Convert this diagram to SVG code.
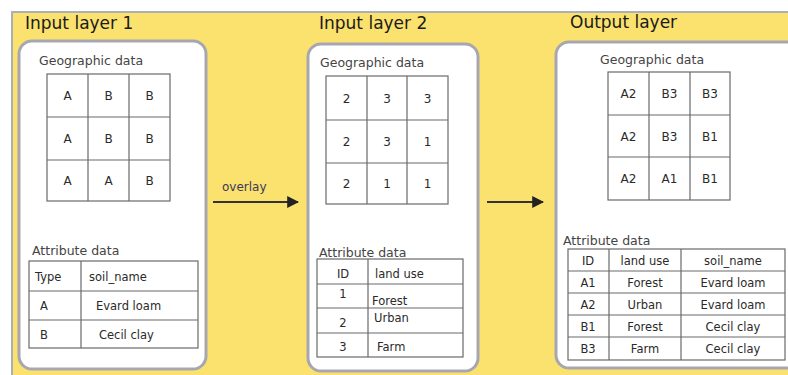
<svg xmlns="http://www.w3.org/2000/svg" width="788" height="375" viewBox="0 0 788 375">
<defs>
<style>
text{font-family:"DejaVu Sans","Liberation Sans",sans-serif;fill:#2a2a2a}
.title{font-size:17px;fill:#1a1a1a}
.sub{font-size:12.5px;fill:#444}
.cell{font-size:12px;text-anchor:middle}
.tbl{font-size:11.5px}
.mid{text-anchor:middle}
.panel{fill:#fff;stroke:#a7a7b2;stroke-width:3}
.grid{fill:none;stroke:#6a6a6a;stroke-width:1.2}
.conn{stroke:#333;stroke-width:2;fill:none}
</style>
<marker id="ah" viewBox="0 0 10 10" refX="9" refY="5" markerWidth="6" markerHeight="6" orient="auto" markerUnits="strokeWidth">
<path d="M0,0 L10,5 L0,10 z" fill="#222"/>
</marker>
</defs>
<rect x="0" y="0" width="788" height="375" fill="#ffffff"/>
<rect x="12" y="12" width="780" height="370" fill="#fbe16e" stroke="#a9b0b8" stroke-width="2"/>

<g id="input1">
<text class="title" x="25" y="29">Input layer 1</text>
<rect class="panel" x="19" y="41" width="187" height="328" rx="13"/>
<text class="sub" x="39" y="65">Geographic data</text>
<g class="grid">
<rect x="47" y="74" width="123" height="127"/>
<path d="M88 74V201M129 74V201M47 117H170M47 160H170"/>
</g>
<g class="cell">
<text x="67.5" y="100">A</text><text x="108.5" y="100">B</text><text x="149.5" y="100">B</text>
<text x="67.5" y="143">A</text><text x="108.5" y="143">B</text><text x="149.5" y="143">B</text>
<text x="67.5" y="185">A</text><text x="108.5" y="185">A</text><text x="149.5" y="185">B</text>
</g>
<text class="sub" x="32" y="255">Attribute data</text>
<g class="grid">
<rect x="29" y="261" width="169" height="87"/>
<path d="M81 261V348M29 291H198M29 320H198"/>
</g>
<g class="tbl">
<text x="35" y="281">Type</text><text x="89" y="281">soil_name</text>
<text x="40" y="310">A</text><text x="96" y="310">Evard loam</text>
<text x="40" y="339">B</text><text x="99" y="339">Cecil clay</text>
</g>
</g>

<g id="input2">
<text class="title" x="319" y="29">Input layer 2</text>
<rect class="panel" x="308" y="44" width="170" height="327" rx="13"/>
<text class="sub" x="320" y="67">Geographic data</text>
<g class="grid">
<rect x="326" y="76" width="122" height="128"/>
<path d="M367 76V204M407 76V204M326 120H448M326 163H448"/>
</g>
<g class="cell">
<text x="346.5" y="103">2</text><text x="387" y="103">3</text><text x="427.5" y="103">3</text>
<text x="346.5" y="146">2</text><text x="387" y="146">3</text><text x="427.5" y="146">1</text>
<text x="346.5" y="188">2</text><text x="387" y="188">1</text><text x="427.5" y="188">1</text>
</g>
<text class="sub" x="319" y="257">Attribute data</text>
<g class="grid">
<rect x="317" y="259" width="146" height="98"/>
<path d="M368 259V357M317 284H463M317 308H463M317 333H463"/>
</g>
<g class="tbl">
<text class="mid" x="343" y="278">ID</text><text x="375" y="278">land use</text>
<text class="mid" x="343" y="298">1</text><text x="372" y="305">Forest</text>
<text class="mid" x="343" y="327">2</text><text x="374" y="322">Urban</text>
<text class="mid" x="343" y="351">3</text><text x="377" y="351">Farm</text>
</g>
</g>

<g id="output">
<text class="title" x="570" y="28">Output layer</text>
<rect class="panel" x="556" y="42" width="245" height="326" rx="13"/>
<text class="sub" x="600" y="64">Geographic data</text>
<g class="grid">
<rect x="608" y="72" width="122" height="128"/>
<path d="M649 72V200M690 72V200M608 115H730M608 157H730"/>
</g>
<g class="cell">
<text x="628.5" y="98">A2</text><text x="669.5" y="98">B3</text><text x="710" y="98">B3</text>
<text x="628.5" y="141">A2</text><text x="669.5" y="141">B3</text><text x="710" y="141">B1</text>
<text x="628.5" y="183">A2</text><text x="669.5" y="183">A1</text><text x="710" y="183">B1</text>
</g>
<text class="sub" x="563" y="245">Attribute data</text>
<g class="grid">
<rect x="568" y="249" width="217" height="111"/>
<path d="M609 249V360M681 249V360M568 271H785M568 293H785M568 315H785M568 337H785"/>
</g>
<g class="tbl mid">
<text x="588" y="265">ID</text><text x="645" y="265">land use</text><text x="733" y="265">soil_name</text>
<text x="588" y="287">A1</text><text x="645" y="287">Forest</text><text x="733" y="287">Evard loam</text>
<text x="588" y="309">A2</text><text x="645" y="309">Urban</text><text x="733" y="309">Evard loam</text>
<text x="588" y="331">B1</text><text x="645" y="331">Forest</text><text x="733" y="331">Cecil clay</text>
<text x="588" y="353">B3</text><text x="645" y="353">Farm</text><text x="733" y="353">Cecil clay</text>
</g>
</g>

<g id="connectors">
<line class="conn" x1="213" y1="202" x2="298" y2="202" marker-end="url(#ah)"/>
<text x="222" y="191" style="font-size:12px;fill:#3a3a5a">overlay</text>
<line class="conn" x1="487" y1="202" x2="543" y2="202" marker-end="url(#ah)"/>
</g>
</svg>
